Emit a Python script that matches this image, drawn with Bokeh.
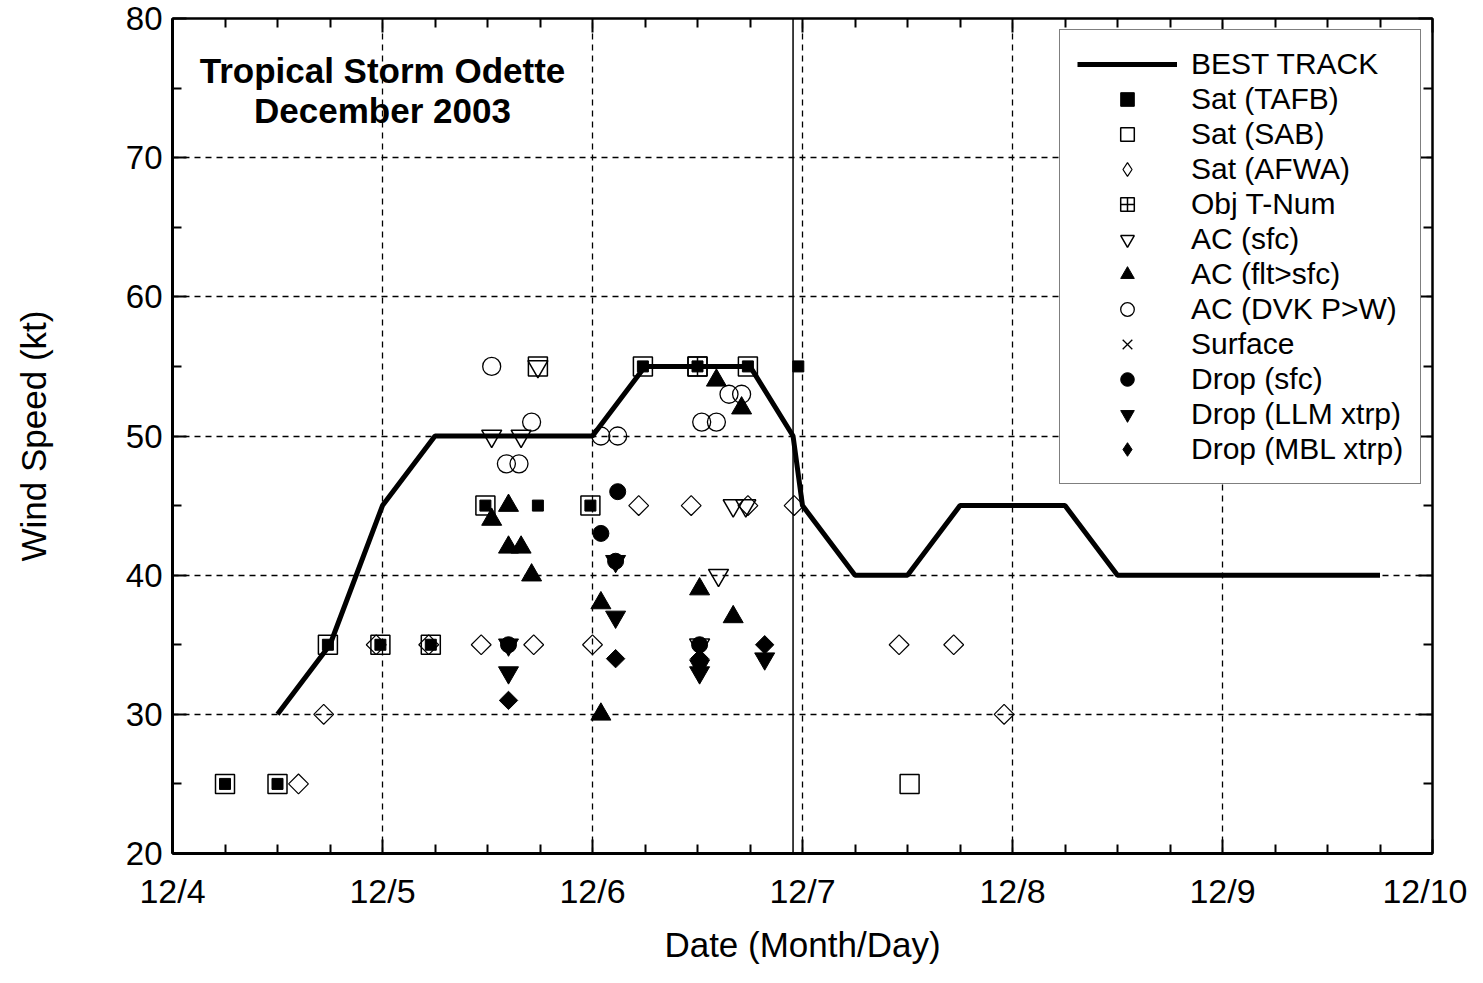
import numpy as np
from bokeh.plotting import figure
from bokeh.models import (FixedTicker, Span, Label, Legend, LegendItem,
                          LinearAxis, Range1d, CustomLabelingPolicy)
from bokeh.embed import file_html
from bokeh.resources import INLINE

FONT = "Liberation Sans"

# ---------------- data (day of December 2003, wind speed kt) ----------------
x_ticks = [4, 5, 6, 7, 8, 9, 10]
x_tick_labels = ["12/4", "12/5", "12/6", "12/7", "12/8", "12/9", "12/10"]
y_ticks = [20, 30, 40, 50, 60, 70, 80]

bt_day = [4.5, 4.75, 5.0, 5.25, 5.5, 5.75, 6.0, 6.25, 6.5, 6.75, 6.955, 7.0,
          7.25, 7.5, 7.75, 8.0, 8.25, 8.5, 8.75, 9.0, 9.25, 9.5, 9.75]
bt_kt = [30, 35, 45, 50, 50, 50, 50, 55, 55, 55, 50, 45,
         40, 40, 45, 45, 45, 40, 40, 40, 40, 40, 40]

tafb_day = [4.25, 4.5, 4.74, 4.99, 5.23, 5.49, 5.74, 5.99, 6.24, 6.5, 6.74, 6.98]
tafb_kt = [25, 25, 35, 35, 35, 45, 45, 45, 55, 55, 55, 55]

sab_day = [4.25, 4.5, 4.74, 4.99, 5.23, 5.49, 5.74, 5.99, 6.24, 6.5, 6.74, 7.51]
sab_kt = [25, 25, 35, 35, 35, 45, 55, 45, 55, 55, 55, 25]

afwa_day = [4.6, 4.72, 4.97, 5.22, 5.47, 5.72, 6.0, 6.22, 6.47, 6.74, 6.96,
            7.46, 7.72, 7.96]
afwa_kt = [25, 30, 35, 35, 35, 35, 35, 45, 45, 45, 45, 35, 35, 30]

objt_day = [6.5]
objt_kt = [55]

acsfc_day = [5.52, 5.66, 5.74, 6.67, 6.73, 6.6, 6.51]
acsfc_kt = [50, 50, 55, 45, 45, 40, 35]

acflt_day = [5.52, 5.6, 5.6, 5.66, 5.71, 6.04, 6.04, 6.51, 6.67, 6.59, 6.71]
acflt_kt = [44, 45, 42, 42, 40, 38, 30, 39, 37, 54, 52]

dvk_day = [5.52, 5.71, 5.59, 5.65, 6.04, 6.12, 6.52, 6.59, 6.65, 6.71]
dvk_kt = [55, 51, 48, 48, 50, 50, 51, 51, 53, 53]

sfc_day = []
sfc_kt = []

dsfc_day = [5.6, 6.04, 6.12, 6.11, 6.51]
dsfc_kt = [35, 43, 46, 41, 35]

llm_day = [5.6, 5.6, 6.11, 6.11, 6.51, 6.51, 6.82]
llm_kt = [35, 33, 41, 37, 33.5, 33, 34]

mbl_day = [5.6, 6.11, 6.51, 6.82]
mbl_kt = [31, 34, 34, 35]

landfall_day = 6.955

# ---------------- figure ----------------
p = figure(width=1467, height=967, x_range=Range1d(4, 10), y_range=Range1d(20, 80),
           output_backend="svg", toolbar_location=None,
           min_border_left=172, min_border_right=35,
           min_border_top=18, min_border_bottom=114)
p.background_fill_color = "white"
p.border_fill_color = "white"
p.outline_line_color = "black"
p.outline_line_width = 2

minor_x = [4 + 0.25 * i for i in range(25) if i % 4 != 0]
minor_y = [25, 35, 45, 55, 65, 75]

hide_all = CustomLabelingPolicy(code="return new Set()")

def style_axis(ax, ticks, minor, labels=True, font_size="30px"):
    ax.ticker = FixedTicker(ticks=ticks, minor_ticks=minor)
    ax.axis_line_color = "black"
    ax.axis_line_width = 3
    ax.major_tick_line_color = "black"
    ax.major_tick_line_width = 2
    ax.minor_tick_line_color = "black"
    ax.minor_tick_line_width = 2
    ax.major_tick_in = 14
    ax.major_tick_out = 0
    ax.minor_tick_in = 9
    ax.minor_tick_out = 0
    if labels:
        ax.major_label_text_font = FONT
        ax.major_label_text_font_size = font_size
        ax.major_label_text_color = "black"
    else:
        ax.major_label_policy = hide_all
        ax.major_label_text_font_size = "1px"
        ax.major_label_standoff = 0

xa = p.xaxis[0]
style_axis(xa, x_ticks, minor_x, font_size="34px")
xa.major_label_overrides = {t: l for t, l in zip(x_ticks, x_tick_labels)}
xa.major_label_standoff = 18
xa.axis_label = "Date (Month/Day)"
xa.axis_label_text_font = FONT
xa.axis_label_text_font_size = "35px"
xa.axis_label_text_font_style = "normal"
xa.axis_label_text_color = "black"
xa.axis_label_standoff = 12

ya = p.yaxis[0]
style_axis(ya, y_ticks, minor_y, font_size="33px")
ya.major_label_standoff = 10
ya.axis_label = "Wind Speed (kt)"
ya.axis_label_text_font = FONT
ya.axis_label_text_font_size = "35px"
ya.axis_label_text_font_style = "normal"
ya.axis_label_text_color = "black"
ya.axis_label_standoff = 70

top = LinearAxis()
style_axis(top, x_ticks, minor_x, labels=False)
top.axis_line_width = 2
p.add_layout(top, "above")
right = LinearAxis()
style_axis(right, y_ticks, minor_y, labels=False)
right.axis_line_width = 2
p.add_layout(right, "right")

for g, t in ((p.xgrid[0], x_ticks), (p.ygrid[0], y_ticks)):
    g.ticker = FixedTicker(ticks=t)
    g.grid_line_color = "black"
    g.grid_line_width = 1.3
    g.grid_line_dash = "6 5"

p.add_layout(Span(location=landfall_day, dimension="height",
                  line_color="black", line_width=1.5))

# ---------------- data glyphs ----------------
r_bt = p.line(bt_day, bt_kt, line_width=5, line_color="black")

r_sab = p.scatter(sab_day, sab_kt, marker="square", size=19, fill_color=None,
                  line_color="black", line_width=1.5)
r_objt = p.scatter(objt_day, objt_kt, marker="square_cross", size=19, fill_color=None,
                   line_color="black", line_width=1.5)
r_tafb = p.scatter(tafb_day, tafb_kt, marker="square", size=11, fill_color="black",
                   line_color="black")
p.scatter(afwa_day, afwa_kt, marker="square", size=14, angle=np.pi / 4,
          fill_color=None, line_color="black", line_width=1.2)
# legend-only (hidden) glyph so the legend shows a diamond
r_afwa = p.scatter(afwa_day, afwa_kt, marker="diamond", size=20, fill_color=None,
                   line_color="black", line_width=1.2, visible=False)
r_acsfc = p.scatter(acsfc_day, acsfc_kt, marker="inverted_triangle", size=20,
                    fill_color=None, line_color="black", line_width=1.5)
r_acflt = p.scatter(acflt_day, acflt_kt, marker="triangle", size=20,
                    fill_color="black", line_color="black")
r_dvk = p.scatter(dvk_day, dvk_kt, marker="circle", size=18, fill_color=None,
                  line_color="black", line_width=1.3)
r_sfc = p.scatter(sfc_day, sfc_kt, marker="x", size=18, line_color="black",
                  line_width=1.3)
# legend-only (hidden) glyph: no surface observations exist for this storm
r_sfc_leg = p.scatter(tafb_day, tafb_kt, marker="x", size=18, line_color="black",
                      line_width=1.3, visible=False)
r_dsfc = p.scatter(dsfc_day, dsfc_kt, marker="circle", size=16, fill_color="black",
                   line_color="black")
r_llm = p.scatter(llm_day, llm_kt, marker="inverted_triangle", size=20,
                  fill_color="black", line_color="black")
p.scatter(mbl_day, mbl_kt, marker="square", size=13, angle=np.pi / 4,
          fill_color="black", line_color="black")
r_mbl = p.scatter(mbl_day, mbl_kt, marker="diamond", size=20, fill_color="black",
                  line_color="black", visible=False)

# ---------------- title ----------------
p.add_layout(Label(x=5.0, y=76.25, text="Tropical Storm Odette", text_align="center",
                   text_baseline="middle", text_font=FONT, text_font_size="35px",
                   text_font_style="bold", text_color="black"))
p.add_layout(Label(x=5.0, y=73.4, text="December 2003", text_align="center",
                   text_baseline="middle", text_font=FONT, text_font_size="35px",
                   text_font_style="bold", text_color="black"))

# ---------------- legend ----------------
items = [
    LegendItem(label="BEST TRACK", renderers=[r_bt]),
    LegendItem(label="Sat (TAFB)", renderers=[r_tafb]),
    LegendItem(label="Sat (SAB)", renderers=[r_sab]),
    LegendItem(label="Sat (AFWA)", renderers=[r_afwa]),
    LegendItem(label="Obj T-Num", renderers=[r_objt]),
    LegendItem(label="AC (sfc)", renderers=[r_acsfc]),
    LegendItem(label="AC (flt>sfc)", renderers=[r_acflt]),
    LegendItem(label="AC (DVK P>W)", renderers=[r_dvk]),
    LegendItem(label="Surface", renderers=[r_sfc_leg]),
    LegendItem(label="Drop (sfc)", renderers=[r_dsfc]),
    LegendItem(label="Drop (LLM xtrp)", renderers=[r_llm]),
    LegendItem(label="Drop (MBL xtrp)", renderers=[r_mbl]),
]
legend = Legend(items=items, location=(887, 369))
legend.border_line_color = "black"
legend.border_line_width = 1.5
legend.background_fill_color = "white"
legend.background_fill_alpha = 1.0
legend.padding = 17
legend.margin = 0
legend.spacing = 1
legend.glyph_width = 100
legend.glyph_height = 34
legend.label_height = 34
legend.label_standoff = 14
legend.label_text_font = FONT
legend.label_text_font_size = "30px"
legend.label_text_color = "black"
legend.label_text_baseline = "middle"
p.add_layout(legend)

open("out.html", "w").write(file_html(p, INLINE))
